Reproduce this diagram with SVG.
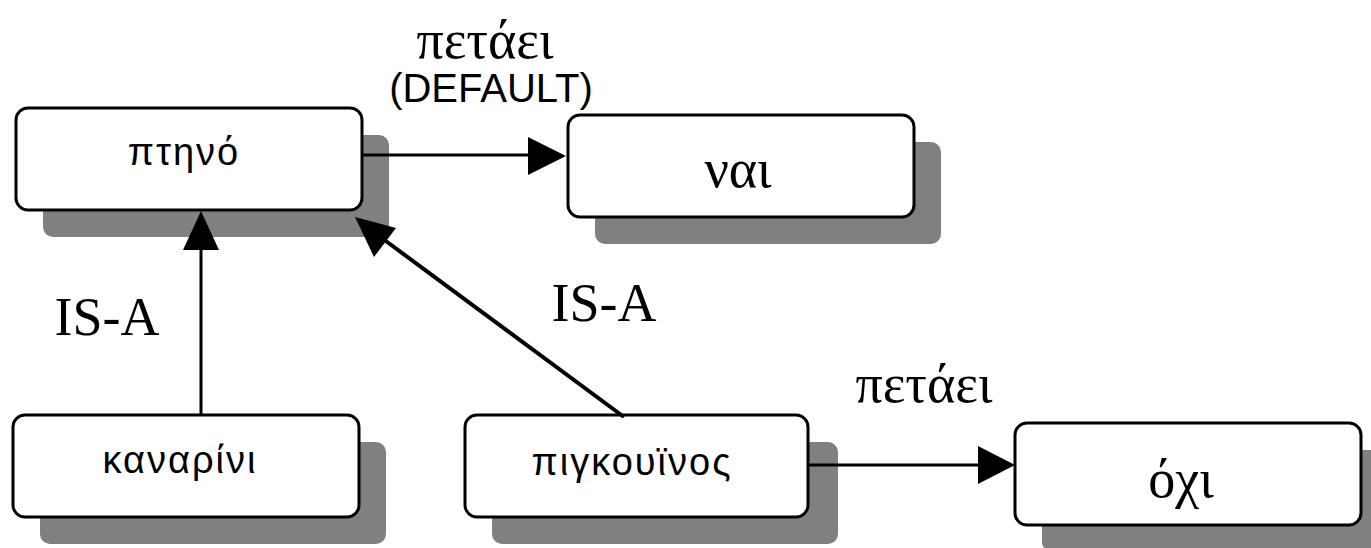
<svg xmlns="http://www.w3.org/2000/svg" width="1371" height="548" viewBox="0 0 1371 548">
<style>
.shadow{fill:#808080;}
.box{fill:#fff;stroke:#000;stroke-width:3;}
.sans{font-family:"Liberation Sans","DejaVu Sans",sans-serif;font-size:38px;fill:#000;letter-spacing:2px;}
.serif{font-family:"Liberation Serif","DejaVu Serif",serif;font-size:54px;fill:#000;}
.edge{stroke:#000;stroke-width:3;fill:none;}
.head{fill:#000;}
</style>
<g id="node-ptino">
<rect class="shadow" x="43" y="135" width="346" height="102" rx="10"/>
<rect class="box" x="16" y="108" width="346" height="102" rx="12"/>
<text class="sans" x="184" y="165" text-anchor="middle">πτηνό</text>
</g>
<g id="node-nai">
<rect class="shadow" x="595" y="142" width="346" height="102" rx="10"/>
<rect class="box" x="568" y="115" width="346" height="102" rx="12"/>
<text class="serif" x="738" y="187" text-anchor="middle">ναι</text>
</g>
<g id="node-kanarini">
<rect class="shadow" x="40" y="442" width="346" height="102" rx="10"/>
<rect class="box" x="13" y="415" width="346" height="102" rx="12"/>
<text class="sans" x="180" y="473" text-anchor="middle">καναρίνι</text>
</g>
<g id="node-pigkouinos">
<rect class="shadow" x="492" y="442" width="346" height="102" rx="10"/>
<rect class="box" x="465" y="415" width="343" height="102" rx="12"/>
<text class="sans" x="632" y="475" text-anchor="middle">πιγκουϊνος</text>
</g>
<g id="node-ochi">
<rect class="shadow" x="1042" y="450" width="346" height="102" rx="10"/>
<rect class="box" x="1015" y="423" width="346" height="102" rx="12"/>
<text class="serif" x="1181" y="497" text-anchor="middle">όχι</text>
</g>
<g id="connectors">
<line class="edge" x1="362" y1="155" x2="540" y2="155"/>
<polygon class="head" points="528,137 566,156 528,175"/>
<line class="edge" x1="808" y1="465" x2="990" y2="465"/>
<polygon class="head" points="978,446 1015,465 978,484"/>
<line class="edge" x1="201" y1="415" x2="201" y2="240"/>
<polygon class="head" points="183,250 201,211 219,250"/>
<line class="edge" x1="624" y1="417" x2="375" y2="233" style="stroke-width:4"/>
<polygon class="head" points="355,217 396,228 374,257"/>
</g>
<g id="labels">
<text class="serif" x="485" y="58" text-anchor="middle">πετάει</text>
<text x="491" y="102" text-anchor="middle" style="font-family:'Liberation Sans','DejaVu Sans',sans-serif;font-size:40px;">(DEFAULT)</text>
<text class="serif" x="107" y="335" text-anchor="middle">IS-A</text>
<text class="serif" x="604" y="321" text-anchor="middle">IS-A</text>
<text class="serif" x="924" y="402" text-anchor="middle">πετάει</text>
</g>
</svg>
